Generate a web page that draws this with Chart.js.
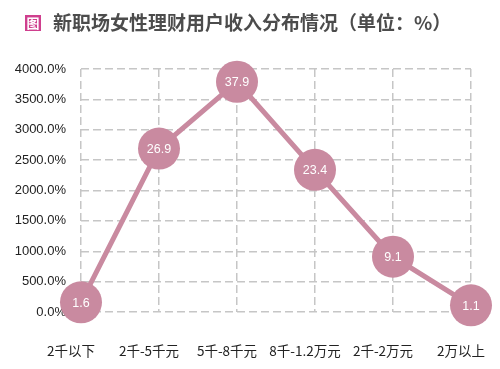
<!DOCTYPE html>
<html>
<head>
<meta charset="utf-8">
<script src="https://cdn.jsdelivr.net/npm/chart.js@4.4.0/dist/chart.umd.min.js"></script>
<style>
  body { margin: 0; background: #fff; }
  #wrap { position: relative; width: 500px; height: 369px; }
  #title {
    position: absolute; left: 25px; top: 8px;
    font-family: "Noto Sans CJK SC", sans-serif;
    font-size: 19px; font-weight: bold; color: #4c4c4c;
    line-height: 28px; white-space: nowrap;
  }
  #title .icon {
    display: inline-block; width: 16px; height: 16px; margin-right: 12px;
    background: #cf3f8e; color: #fff; font-size: 13px; line-height: 16px;
    text-align: center; vertical-align: 2px;
  }
  canvas { position: absolute; left: 0; top: 0; }
</style>
</head>
<body>
<div id="wrap">
  <canvas id="chart" width="500" height="369"></canvas>
  <div id="title"><span class="icon">图</span>新职场女性理财用户收入分布情况（单位：%）</div>
</div>
<script>
// Chart data
const categories = ['2千以下', '2千-5千元', '5千-8千元', '8千-1.2万元', '2千-2万元', '2万以上'];
const shares = [1.6, 26.9, 37.9, 23.4, 9.1, 1.1];
const yTicks = [0, 5, 10, 15, 20, 25, 30, 35, 40];

const ROSE = '#c98aa0';
const GRID = '#c6c6c6';
const DASH = [8, 4];

// Draws the value inside each circle
const valueLabels = {
    id: 'valueLabels',
    afterDatasetsDraw(chart) {
        const ctx = chart.ctx;
        const meta = chart.getDatasetMeta(0);
        ctx.save();
        ctx.fillStyle = '#fff';
        ctx.font = '12.5px "Liberation Sans", Arial, sans-serif';
        ctx.textAlign = 'center';
        ctx.textBaseline = 'middle';
        meta.data.forEach((pt, i) => {
            ctx.fillText(shares[i].toFixed(1), pt.x, pt.y + 1);
        });
        ctx.restore();
    }
};

new Chart(document.getElementById('chart'), {
    type: 'line',
    data: {
        labels: categories,
        datasets: [{
            data: shares,
            borderColor: ROSE,
            backgroundColor: ROSE,
            borderWidth: 5,
            pointRadius: 21,
            pointBorderWidth: 0,
            pointBackgroundColor: ROSE,
            tension: 0,
            clip: false
        }]
    },
    options: {
        responsive: false,
        animation: false,
        layout: { padding: { top: 69, right: 29, bottom: 0, left: 0 } },
        plugins: {
            legend: { display: false },
            tooltip: { enabled: false }
        },
        scales: {
            x: {
                offset: false,
                border: { display: false, dash: DASH },
                grid: { color: GRID, lineWidth: 1.5, drawTicks: false },
                ticks: {
                    padding: 31,
                    labelOffset: -10,
                    maxRotation: 0,
                    autoSkip: false,
                    color: '#222',
                    font: { family: '"Noto Sans CJK SC", sans-serif', size: 13.5 }
                },
                afterFit(scale) {
                    scale.height = 57;
                    scale.paddingLeft = 0;
                    scale.paddingRight = 0;
                }
            },
            y: {
                min: 0,
                max: 40,
                border: { display: false, dash: DASH },
                grid: { color: GRID, lineWidth: 1.5, drawTicks: false },
                afterBuildTicks(scale) { scale.ticks = yTicks.map(v => ({ value: v })); },
                ticks: {
                    padding: 15,
                    color: '#222',
                    font: { family: '"Liberation Sans", Arial, sans-serif', size: 13 },
                    callback: v => (v * 100).toFixed(1) + '%'
                },
                afterFit(scale) {
                    scale.width = 81;
                    scale.paddingTop = 0;
                    scale.paddingBottom = 0;
                }
            }
        }
    },
    plugins: [valueLabels]
});
</script>
</body>
</html>
